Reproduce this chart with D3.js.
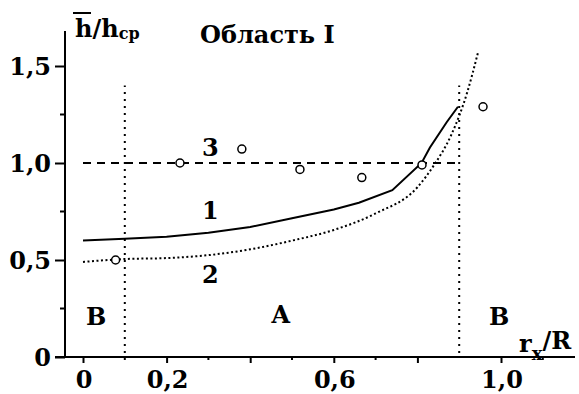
<!DOCTYPE html>
<html>
<head>
<meta charset="utf-8">
<script src="https://cdn.jsdelivr.net/npm/d3@7"></script>
<style>
  body { margin: 0; background: #fff; }
  text { font-family: "DejaVu Serif", serif; font-weight: bold; fill: #000; }
</style>
</head>
<body>
<div id="chart"></div>
<script>
// curve 1 (solid)
const curve1X = [0, 0.1, 0.2, 0.3, 0.4, 0.5, 0.6, 0.66, 0.74, 0.81, 0.83, 0.87, 0.897];
const curve1Y = [0.60, 0.61, 0.62, 0.64, 0.67, 0.715, 0.76, 0.795, 0.86, 1.0, 1.08, 1.21, 1.29];
// curve 2 (dotted)
const curve2X = [0, 0.1, 0.2, 0.3, 0.4, 0.5, 0.6, 0.7, 0.8, 0.84, 0.88, 0.92, 0.945];
const curve2Y = [0.49, 0.505, 0.51, 0.525, 0.555, 0.60, 0.655, 0.74, 0.875, 0.99, 1.14, 1.37, 1.57];
// line 3 (dashed) and measured points
const line3X = [0, 0.9];
const line3Y = [1.0, 1.0];
const pointsX = [0.078, 0.232, 0.38, 0.519, 0.667, 0.811, 0.957];
const pointsY = [0.5, 1.0, 1.072, 0.967, 0.925, 0.99, 1.29];
// zone borders
const borderX = [0.1, 0.9];
const borderTop = 1.4;
// ticks
const xMajor = [0, 0.2, 0.4, 0.6, 0.8, 1.0];
const xMinor = [0.1, 0.3, 0.5, 0.7, 1.1];
const xLabels = [0, 0.2, 0.6, 1.0];
const yMajor = [0, 0.5, 1.0, 1.5];
const yMinor = [0.25, 0.75, 1.25];

const W = 579, H = 394;
const svg = d3.select("#chart").append("svg")
    .attr("width", W)
    .attr("height", H);

const x = d3.scaleLinear().domain([0, 1]).range([83, 501]);
const y = d3.scaleLinear().domain([0, 1]).range([357, 163]);
const fmt = v => v === 0 ? "0" : d3.format(".1f")(v).replace(".", ",");

// axes
const xAxis = svg.append("g").attr("transform", `translate(0,${y(0)})`);
xAxis.call(d3.axisBottom(x).tickValues(xMajor).tickSize(6).tickFormat(""));
xAxis.select(".domain").remove();
xAxis.append("line").attr("x1", 55).attr("x2", 575).attr("stroke", "#000").attr("stroke-width", 2);
xAxis.selectAll(".tick line").attr("stroke-width", 2);
xAxis.selectAll(".minor").data(xMinor).enter().append("line")
    .attr("x1", d => x(d)).attr("x2", d => x(d))
    .attr("y1", 0).attr("y2", 3)
    .attr("stroke", "#000").attr("stroke-width", 2);

const yAxis = svg.append("g").attr("transform", "translate(65,0)");
yAxis.call(d3.axisLeft(y).tickValues(yMajor).tickSize(10).tickFormat(""));
yAxis.select(".domain").remove();
yAxis.append("line").attr("y1", y(0)).attr("y2", 31).attr("stroke", "#000").attr("stroke-width", 2);
yAxis.selectAll(".tick line").attr("stroke-width", 2);
yAxis.selectAll(".minor").data(yMinor).enter().append("line")
    .attr("y1", d => y(d)).attr("y2", d => y(d))
    .attr("x1", 0).attr("x2", -5)
    .attr("stroke", "#000").attr("stroke-width", 2);

// tick labels
svg.selectAll(".xlab").data(xLabels).enter().append("text")
    .attr("x", d => x(d) + 1)
    .attr("y", 388)
    .attr("text-anchor", "middle")
    .attr("font-size", 24)
    .text(fmt);
svg.selectAll(".ylab").data(yMajor).enter().append("text")
    .attr("x", 51)
    .attr("y", d => y(d) + 9)
    .attr("text-anchor", "end")
    .attr("font-size", 24)
    .text(fmt);

// zone borders
svg.selectAll(".border").data(borderX).enter().append("line")
    .attr("x1", d => x(d)).attr("x2", d => x(d))
    .attr("y1", y(0) - 4).attr("y2", y(borderTop))
    .attr("stroke", "#000").attr("stroke-width", 2)
    .attr("stroke-dasharray", "2,5");

// lines
const line = d3.line().x(d => x(d[0])).y(d => y(d[1]));
svg.append("path")
    .attr("d", line(d3.zip(line3X, line3Y)))
    .attr("fill", "none").attr("stroke", "#000").attr("stroke-width", 2)
    .attr("stroke-dasharray", "8,6");
svg.append("path")
    .attr("d", line(d3.zip(curve1X, curve1Y)))
    .attr("fill", "none").attr("stroke", "#000").attr("stroke-width", 2);
svg.append("path")
    .attr("d", line.curve(d3.curveMonotoneX)(d3.zip(curve2X, curve2Y)))
    .attr("fill", "none").attr("stroke", "#000").attr("stroke-width", 2)
    .attr("stroke-dasharray", "2,2.5");

// points
svg.selectAll(".pt").data(d3.zip(pointsX, pointsY)).enter().append("circle")
    .attr("cx", d => x(d[0])).attr("cy", d => y(d[1]))
    .attr("r", 4)
    .attr("fill", "#fff").attr("stroke", "#000").attr("stroke-width", 1.5);

// annotations
const ann = (tx, ty, s, size) => svg.append("text")
    .attr("x", tx).attr("y", ty).attr("font-size", size || 24).text(s);
ann(202, 156, "3");
ann(202, 219, "1");
ann(202, 283, "2");
ann(86, 325, "В");
ann(271, 323, "А");
ann(489, 325, "В");
ann(200, 43, "Область I");

// y label: h̄/h_cp
const yl = svg.append("text").attr("x", 75).attr("y", 37).attr("font-size", 24);
yl.append("tspan").text("h/h");
yl.append("tspan").attr("font-size", 16).attr("dy", 2).text("cp");
svg.append("line").attr("x1", 73).attr("x2", 91).attr("y1", 13).attr("y2", 13)
    .attr("stroke", "#000").attr("stroke-width", 2);

// x label: r_x/R
const xl = svg.append("text").attr("x", 519).attr("y", 352).attr("font-size", 24);
xl.append("tspan").text("r");
xl.append("tspan").attr("font-size", 18).attr("dy", 8).text("x");
xl.append("tspan").attr("dy", -11).text("/R");
</script>
</body>
</html>
